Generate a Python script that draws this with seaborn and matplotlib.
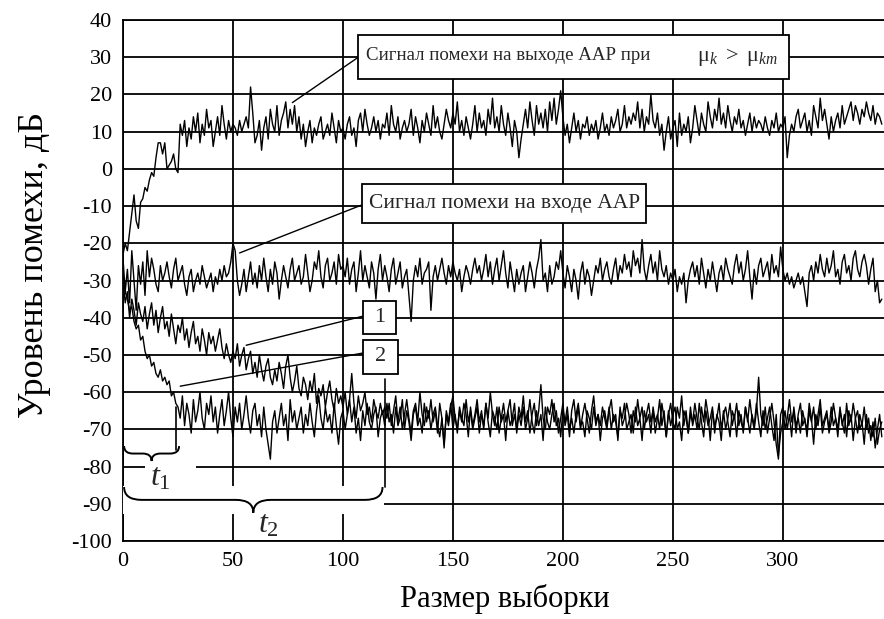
import numpy as np
import pandas as pd
import matplotlib
matplotlib.use('Agg')
import matplotlib.pyplot as plt
import seaborn as sns
from matplotlib.patches import Rectangle, PathPatch
from matplotlib.path import Path

# Interference levels, dB, one value per sample
out_signal = [
    -23, -20, -22, -17, -12, -7, -14, -16, -9, -8, -5, -6, -3, -1, -2, 3, 7, 7, 4, 7,
    0, 1, 2, 4, 0, -1, 12, 9, 13, 6,
    11, 8, 14, 10, 15, 7, 12, 9, 16, 11, 13, 6, 10, 14, 9, 17, 12, 8, 13, 10,
    12, 11, 9, 13, 10, 12, 14, 11, 22, 15, 7, 9, 13, 5, 11, 14, 8, 16, 12, 10,
    17, 9, 13, 15, 18, 11, 16, 12, 17, 10, 14, 8, 12, 6, 10, 13, 7, 11, 9, 12,
    14, 8, 10, 12, 9, 15, 11, 7, 13, 10, 11, 8, 12, 14, 9, 11, 6, 13, 15, 10,
    16, 12, 9, 11, 14, 10, 13, 8, 12, 11, 15, 9, 17, 12, 10, 14, 8, 11, 13, 10,
    12, 16, 9, 14, 11, 7, 13, 10, 15, 12, 9, 17, 11, 14, 10, 8, 12, 16, 13, 11,
    15, 12, 18, 10, 13, 9, 14, 11, 8, 12, 17, 10, 15, 11, 13, 9, 16, 12, 19, 11,
    14, 10, 17, 12, 9, 15, 11, 6, 13, 10, 3, 8, 12, 16, 11, 18, 13, 9, 17, 12,
    15, 11, 16, 10, 18, 13, 19, 12, 16, 21, 14, 9, 12, 7, 11, 15, 10, 13, 8, 12,
    11, 14, 9, 12, 10, 13, 8, 11, 15, 10, 12, 9, 14, 11, 13, 16, 10, 12, 17, 11,
    14, 12, 15, 13, 18, 11, 16, 10, 14, 12, 20, 13, 11, 15, 9, 12, 5, 10, 14, 8,
    11, 13, 6, 15, 9, 12, 10, 14, 7, 11, 17, 13, 9, 15, 12, 10, 18, 14, 11, 16,
    13, 19, 12, 15, 11, 17, 13, 10, 14, 12, 16, 11, 13, 9, 12, 15, 10, 14, 11, 13,
    12, 10, 14, 11, 9, 13, 11, 15, 10, 12, 11, 14, 3, 9, 12, 10, 14, 16, 11, 13,
    15, 10, 13, 9, 17, 14, 11, 19, 13, 16, 12, 8, 14, 10, 13, 15, 11, 17, 12, 14,
    16, 18, 13, 17, 15, 12, 16, 14, 18, 15, 13, 17, 12, 15, 14, 12,
]

in_signal = [
    -24, -33, -27, -36, -22, -30, -38, -26, -31, -25, -34, -22, -29, -24, -27, -31, -33, -26, -30, -28,
    -25, -29, -32, -27, -24, -30, -28, -26, -31, -34, -29, -27, -33, -30, -28, -31, -26, -29, -32, -30,
    -28, -33, -29, -31, -27, -30, -26, -29, -28, -25, -20, -22, -30, -34, -31, -27, -33, -29, -25, -31,
    -28, -32, -26, -30, -24, -29, -33, -27, -31, -25, -28, -35, -30, -26, -29, -32, -27, -24, -30, -28,
    -26, -31, -29, -23, -28, -33, -30, -25, -27, -22, -29, -32, -26, -24, -30, -28, -25, -31, -23, -27,
    -26, -29, -24, -31, -27, -25, -33, -28, -22, -30, -26, -29, -32, -25, -28, -35, -27, -23, -30, -26,
    -29, -33, -27, -24, -31, -28, -25, -32, -29, -27, -34, -41, -30, -26, -29, -24, -31, -28, -27, -25,
    -38, -29, -26, -30, -27, -24, -28, -31, -26, -29, -25, -28, -30, -27, -33, -29, -26, -28, -31, -27,
    -24, -28, -26, -30, -27, -23, -29, -25, -31, -27, -24, -30, -26, -22, -28, -32, -25, -29, -33, -27,
    -31, -28, -26, -33, -29, -25, -28, -32, -27, -24, -19, -30, -28, -33, -26, -31, -29, -25, -27, -22,
    -28, -32, -26, -29, -33, -27, -30, -35, -28, -25, -31, -27, -29, -34, -30, -26, -28, -24, -30, -27,
    -25, -29, -31, -27, -24, -30, -26, -28, -23, -27, -25, -29, -22, -26, -24, -28, -19, -27, -30, -26,
    -23, -28, -25, -30, -22, -27, -29, -26, -31, -28, -30, -27, -33, -29, -31, -28, -36, -30, -27, -25,
    -29, -26, -31, -24, -28, -32, -27, -30, -25, -29, -33, -28, -26, -30, -24, -27, -29, -31, -26, -23,
    -28, -25, -30, -27, -22, -29, -35, -27, -31, -26, -24, -29, -27, -25, -30, -23, -28, -26, -29, -21,
    -27, -30, -28, -31, -29, -32, -30, -28, -31, -29, -33, -37, -28, -26, -30, -25, -28, -23, -27, -29,
    -24, -28, -26, -22, -29, -27, -31, -25, -23, -28, -26, -30, -24, -22, -27, -29, -25, -23, -26, -31,
    -27, -24, -33, -30, -36, -35,
]

curve_1 = [
    -30, -36, -33, -40, -35, -38, -42, -36, -39, -41, -37, -43, -39, -36, -42, -38, -44, -40, -37, -43,
    -41, -45, -39, -43, -47, -42, -44, -40, -46, -43, -48, -44, -41, -47, -45, -49, -43, -46, -50, -44,
    -47, -45, -49, -46, -43, -48, -51, -47, -50, -52, -49, -51, -47, -53, -50, -48, -54, -51, -49, -55,
    -52, -56, -50, -54, -57, -53, -51, -56, -58, -54, -57, -52, -55, -59, -53, -50, -56, -60, -57, -53,
    -59, -61, -56, -58, -62, -57, -60, -55, -63, -59, -61, -58, -64, -60, -57, -62, -65, -59, -63, -61,
    -64, -60, -66, -62, -55, -63, -67, -61, -65, -63, -60, -66, -64, -68, -62, -65, -67, -63, -66, -64,
    -67, -63, -69, -65, -61, -68, -64, -70, -66, -62, -67, -71, -65, -63, -68, -60, -66, -69, -64, -67,
    -62, -68, -65, -71, -63, -67, -74, -66, -69, -64, -61, -67, -70, -65, -68, -63, -66, -72, -64, -69,
    -66, -62, -68, -65, -70, -63, -67, -60, -66, -69, -64, -71, -67, -63, -68, -65, -62, -69, -66, -70,
    -64, -67, -61, -68, -65, -71, -66, -63, -69, -65, -58, -67, -70, -64, -66, -62, -68, -65, -71, -67,
    -63, -69, -66, -72, -65, -62, -68, -64, -70, -66, -63, -67, -71, -65, -61, -68, -66, -69, -64, -67,
    -70, -65, -62, -68, -66, -73, -64, -69, -67, -63, -66, -71, -65, -68, -62, -67, -64, -70, -66, -63,
    -68, -65, -71, -67, -62, -69, -65, -72, -66, -63, -68, -70, -64, -67, -61, -69, -65, -71, -66, -68,
    -63, -67, -70, -64, -68, -62, -66, -73, -65, -69, -67, -63, -70, -66, -64, -68, -72, -65, -67, -63,
    -69, -66, -71, -64, -68, -62, -67, -70, -65, -56, -66, -69, -64, -71, -67, -63, -68, -74, -78, -66,
    -64, -70, -67, -62, -68, -65, -71, -66, -63, -69, -67, -72, -65, -68, -64, -70, -66, -62, -69, -67,
    -65, -71, -68, -63, -67, -70, -64, -69, -66, -72, -65, -68, -63, -67, -71, -66, -69, -64, -70, -67,
    -73, -68, -75, -70, -66, -72,
]

curve_2 = [
    -29, -33, -35, -38, -37, -41, -43, -42, -46, -45, -49, -51, -50, -53, -52, -55, -56, -54, -57, -56,
    -58, -57, -61, -60, -63, -64, -67, -61, -69, -63, -66, -71, -62, -68, -65, -60, -67, -70, -63, -66,
    -61, -68, -64, -71, -66, -62, -69, -65, -60, -67, -72, -64, -68, -63, -70, -66, -61, -67, -71, -65,
    -63, -69, -66, -72, -64, -70, -74, -78, -68, -65, -71, -67, -63, -69, -66, -73, -62, -68, -65, -70,
    -67, -64, -71, -66, -69, -63, -68, -72, -65, -61, -67, -70, -64, -68, -66, -71, -63, -69, -74, -67,
    -65, -70, -66, -62, -68, -64, -71, -67, -73, -65, -69, -63, -68, -70, -66, -64, -72, -67, -65, -69,
    -63, -68, -66, -71, -64, -69, -67, -62, -70, -65, -68, -73, -66, -64, -69, -67, -71, -63, -68, -65,
    -70, -66, -64, -69, -72, -67, -75, -65, -68, -63, -70, -66, -71, -64, -67, -69, -62, -68, -65, -70,
    -67, -64, -71, -66, -69, -63, -68, -72, -65, -67, -70, -64, -68, -66, -73, -65, -69, -67, -63, -71,
    -66, -69, -64, -70, -67, -62, -68, -71, -65, -69, -66, -73, -64, -68, -70, -66, -63, -69, -67, -72,
    -65, -68, -64, -70, -67, -71, -66, -63, -69, -68, -72, -65, -67, -70, -64, -69, -66, -73, -67, -65,
    -69, -64, -70, -66, -68, -72, -65, -67, -63, -70, -68, -66, -71, -64, -69, -67, -73, -65, -68, -66,
    -71, -64, -68, -66, -70, -63, -67, -72, -65, -69, -66, -64, -70, -68, -73, -65, -67, -71, -64, -69,
    -66, -70, -63, -68, -72, -65, -69, -67, -64, -71, -66, -68, -73, -65, -70, -67, -63, -69, -66, -72,
    -65, -68, -70, -64, -67, -71, -66, -69, -63, -68, -72, -65, -70, -67, -64, -69, -73, -66, -77, -71,
    -68, -65, -70, -66, -72, -64, -69, -67, -71, -65, -68, -70, -63, -67, -74, -66, -69, -64, -71, -68,
    -66, -70, -64, -69, -67, -72, -65, -68, -71, -63, -69, -66, -73, -67, -65, -70, -68, -74, -66, -71,
    -69, -72, -67, -74, -70, -68,
]

x_ticks = [0, 50, 100, 150, 200, 250, 300]
y_ticks = list(range(-100, 41, 10))

sns.set_theme(style='white')
plt.rcParams['font.family'] = ['Liberation Serif', 'DejaVu Serif']
plt.rcParams['mathtext.fontset'] = 'custom'
plt.rcParams['mathtext.rm'] = 'Liberation Serif'
plt.rcParams['mathtext.it'] = 'Liberation Serif:italic'
plt.rcParams['axes.unicode_minus'] = False

fig = plt.figure(figsize=(8.84, 6.19), dpi=100)
ax = fig.add_axes([123 / 884, 1 - 541 / 619, 1 - 123 / 884, 521 / 619])

# the four traces
for vals in [out_signal, in_signal, curve_1, curve_2]:
    sns.lineplot(x=np.arange(len(vals)), y=vals, ax=ax, color='black', lw=1.0, zorder=2)

ax.set_xlim(0, 346)
ax.set_ylim(-100, 40)
ax.set_xticks(x_ticks)
ax.set_yticks(y_ticks)
ax.grid(True, color='black', lw=1.3, zorder=0.5)
ax.set_axisbelow(True)
for side in ['left', 'bottom', 'top']:
    ax.spines[side].set_color('black')
    ax.spines[side].set_linewidth(1.3)
ax.spines['right'].set_visible(False)
ax.tick_params(axis='y', length=5, width=1.3, direction='out', pad=3, labelsize=16, colors='black')
ax.tick_params(axis='x', length=0, pad=8, labelsize=16, colors='black')

ax.set_ylabel('Уровень помехи, дБ', fontsize=26, color='black')
ax.set_xlabel('Размер выборки', fontsize=22, color='black')
ax.yaxis.set_label_coords(-0.095, 0.53)
ax.xaxis.set_label_coords(0.502, -0.083)

# callout boxes
def box(x0, y0, w, h):
    ax.add_patch(Rectangle((x0, y0), w, h, fc='white', ec='black', lw=1.3, zorder=5))

box(107, 24.2, 196, 11.9)
ax.text(110.5, 30.4, 'Сигнал помехи на выходе ААР при', fontsize=13.6, va='center', zorder=6)
ax.text(261, 30.0, r'$\mathrm{μ}_{k}\ >\ \mathrm{μ}_{km}$', fontsize=16, va='center', zorder=6)
ax.plot([107, 77], [30, 17.8], color='black', lw=1, zorder=4)

box(108.6, -14.5, 129.4, 10.3)
ax.text(112, -9.3, 'Сигнал помехи на входе ААР', fontsize=15.5, va='center', zorder=6)
ax.plot([108.6, 53], [-9.7, -22.6], color='black', lw=1, zorder=4)

box(109, -44.3, 15, 8.9)
ax.text(116.5, -39.9, '1', fontsize=16, ha='center', va='center', zorder=6)
ax.plot([109, 56], [-39.6, -47.4], color='black', lw=1, zorder=4)

box(109, -55, 16, 9.1)
ax.text(117, -50.5, '2', fontsize=16, ha='center', va='center', zorder=6)
ax.plot([109, 26], [-49.5, -58.4], color='black', lw=1, zorder=4)

# t1 / t2 braces
def brace(x0, x1, y_end, y_tip, r):
    xm = (x0 + x1) / 2
    ym = (y_end + y_tip) / 2
    verts = [(x0, y_end), (x0, ym), (x0 + r, ym),
             (xm - r, ym), (xm, ym), (xm, y_tip),
             (xm, ym), (xm + r, ym),
             (x1 - r, ym), (x1, ym), (x1, y_end)]
    codes = [Path.MOVETO, Path.CURVE3, Path.CURVE3,
             Path.LINETO, Path.CURVE3, Path.CURVE3,
             Path.CURVE3, Path.CURVE3,
             Path.LINETO, Path.CURVE3, Path.CURVE3]
    ax.add_patch(PathPatch(Path(verts, codes), fc='none', ec='black', lw=1.4, zorder=4))

ax.add_patch(Rectangle((0, -92.8), 118.5, 7.6, fc='white', ec='none', zorder=3))
ax.add_patch(Rectangle((10, -86.5), 23, 7.2, fc='white', ec='none', zorder=3))
brace(0.5, 25.5, -74.5, -78.5, 4)
brace(0.5, 118, -85.5, -92.4, 8)
ax.plot([24, 24], [-64, -75.5], color='black', lw=1.2, zorder=4)
ax.plot([119, 119], [-56.5, -85.5], color='black', lw=1.2, zorder=4)
ax.text(17, -83.2, r'$t_1$', fontsize=23, ha='center', va='center', zorder=6)
ax.text(66, -95.6, r'$t_2$', fontsize=23, ha='center', va='center', zorder=6)

fig.savefig('out.png', dpi=100)
